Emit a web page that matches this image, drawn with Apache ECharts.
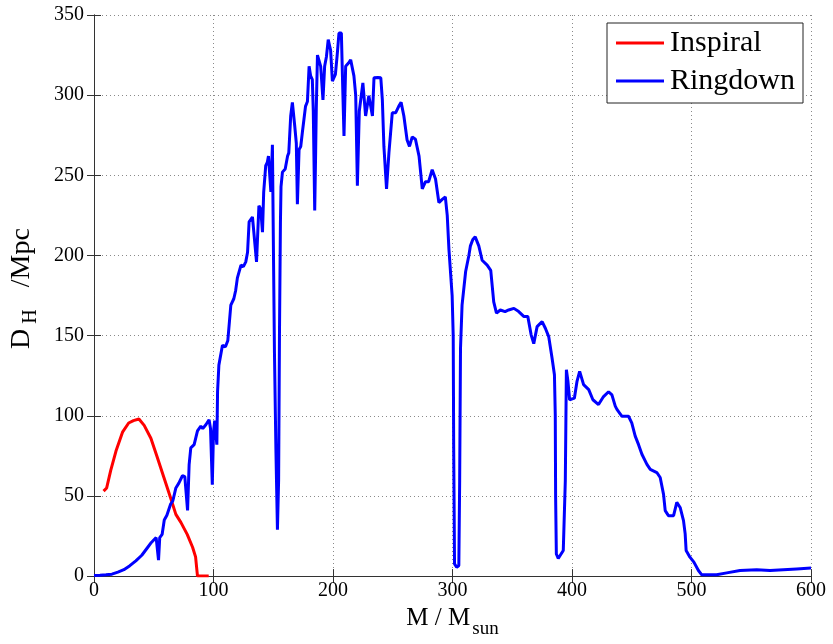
<!DOCTYPE html>
<html>
<head>
<meta charset="utf-8">
<script src="https://cdn.jsdelivr.net/npm/echarts@6/dist/echarts.min.js"></script>
<style>
html,body{margin:0;padding:0;background:#fff;}
#chart{width:833px;height:644px;}
</style>
</head>
<body>
<div id="chart"></div>
<script>
// ---- data ----
const seriesNames = ['Inspiral', 'Ringdown'];
const xTicks = [0, 100, 200, 300, 400, 500, 600];
const yTicks = [0, 50, 100, 150, 200, 250, 300, 350];

const inspiralMass = [8, 10.6, 14, 18.4, 24, 29, 33, 37.6, 42, 47.6, 53, 58.5, 64, 68.5, 72.7, 78, 82.5, 85, 86.6, 96];
const inspiralDist = [53, 55, 66, 78, 90, 95.5, 97, 98, 94, 86, 74, 61.5, 49, 38.5, 33.5, 26, 18, 12, 0, 0];

const ringdownMass = [0, 5, 10, 15, 20, 25, 30, 35, 40, 45, 48, 50, 52, 53, 54, 55, 57, 58.8, 61, 64, 66, 68.5, 71, 74, 76, 77, 78.3, 79.6, 81, 83.8, 86.6, 89.4, 91, 93.6, 96.3, 97.5, 99, 100, 101, 102.8, 103.4, 104.5, 106, 107.5, 110, 112, 114.5, 117, 118.5, 120, 123, 125, 127, 128.5, 129.8, 131, 132.6, 136, 138, 139.5, 141, 142, 143.7, 145, 146, 148, 149.3, 150.2, 151, 152.2, 153.5, 154.5, 155.2, 156, 156.5, 157.7, 160, 162, 163, 164.6, 166, 168, 169.3, 170.2, 171.6, 173, 174.4, 175.7, 177, 178.6, 180, 181.3, 182.7, 183.5, 184.7, 185.5, 186, 187, 189.7, 191.6, 193, 194.5, 196, 198, 199.5, 202, 203.5, 205, 207, 208.3, 209.2, 210.6, 213, 214.8, 217.5, 219, 220.4, 222, 225, 227.3, 230, 233, 234.3, 237.6, 240, 241.3, 242.6, 244.8, 246.8, 249.6, 252.4, 255, 257, 259.3, 262, 264, 266.3, 269, 272, 274.7, 277.4, 280, 283, 285.8, 288.6, 291.4, 294, 295.6, 297, 299.7, 300.6, 301, 301.7, 303.5, 305.3, 306, 306.7, 308, 311, 313.7, 315, 317, 319, 322, 324.8, 329, 332, 334.5, 336.8, 340, 344, 347, 351.4, 355.4, 359.6, 363, 365.8, 368, 370.8, 375, 377.7, 380.5, 383.3, 385.3, 386, 386.3, 386.9, 388.5, 390, 392.7, 394.4, 395.3, 396.6, 398, 402, 404.2, 406.4, 409.7, 414, 417.5, 422.2, 426.4, 430.6, 433.4, 436.2, 437.6, 441.8, 447.3, 450, 452.9, 455.7, 458.5, 462.7, 465.5, 471, 473.8, 476.6, 478, 480.7, 485, 487.7, 490.5, 493.3, 494.7, 495.5, 498.7, 502, 505.8, 508.6, 521, 529.5, 540.6, 554.6, 565.7, 576.8, 588, 600];
const ringdownDist = [0.3, 0.5, 0.8, 1.2, 2.5, 4, 6.5, 9.5, 13, 18, 21, 22.5, 24, 23, 10, 24, 26, 35, 38, 44.7, 47, 55, 58, 62.6, 62, 63, 41, 69.5, 80, 82, 90.6, 93.6, 92, 94.4, 97.5, 92, 57, 90, 97, 82, 115, 131.6, 132, 144, 143, 147, 169, 173, 178, 186, 194, 193, 196, 202, 221, 222, 224, 196, 231, 229, 214.5, 239.5, 256, 258, 262, 239.6, 269, 200, 140, 80, 29, 60, 150, 220, 243, 252, 254, 262, 264, 287, 295.5, 280.6, 270, 232, 266, 268, 277, 285, 293, 296, 318, 312, 309.7, 290, 228, 265, 291, 325, 318, 297, 318, 324, 334.6, 328, 308.7, 313, 325, 338.7, 338.7, 300, 274.6, 318, 320, 322, 312, 300, 243.5, 290, 307.6, 287, 299.6, 287, 310.8, 311, 310.8, 297, 268, 241.5, 264, 289, 289, 293, 295.5, 287, 272, 268, 274, 272.5, 262, 241.5, 246, 246, 253.5, 247.7, 233, 235, 236.5, 225, 204, 175, 150, 80, 7.6, 5.5, 6.6, 59.5, 142, 169, 190, 200, 206, 210, 211.6, 206, 197, 194, 190.7, 171, 164, 166, 165, 166, 167, 165, 162, 162, 150.5, 145, 155.6, 158.7, 154.6, 149.4, 136, 125.6, 100.7, 49, 13.8, 11, 10.7, 16, 59.4, 128.7, 121.5, 110, 111, 121.5, 127.7, 119.4, 116.3, 110, 107, 112, 115, 113, 106, 104, 99.7, 99.7, 95.6, 87.3, 82, 76, 69.7, 66.6, 64.6, 61.5, 51, 40.8, 37.7, 37.7, 46, 42.8, 34.6, 26.3, 16, 11.8, 8.7, 3.5, 0.8, 0.8, 2, 3.5, 4, 3.5, 4, 4.5, 5];

// ---- chart ----
const FONT = '"Liberation Serif", "Times New Roman", serif';
const zip = (xs, ys) => xs.map((x, i) => [x, ys[i]]);
const xMin = xTicks[0], xMax = xTicks[xTicks.length - 1], xStep = xTicks[1] - xTicks[0];
const yMin = yTicks[0], yMax = yTicks[yTicks.length - 1], yStep = yTicks[1] - yTicks[0];

const frameLine = { show: true, lineStyle: { color: '#333', width: 1 } };
const inTick = { show: true, inside: true, length: 7, lineStyle: { color: '#333', width: 1 } };
const gridLine = { show: true, lineStyle: { color: '#8a8a8a', width: 1, type: [1, 3] } };

const chart = echarts.init(document.getElementById('chart'), null, { renderer: 'canvas' });
chart.setOption({
  animation: false,
  backgroundColor: '#fff',
  grid: { left: 93, right: 22, top: 15, bottom: 65, containLabel: false },
  legend: {
    data: seriesNames,
    orient: 'vertical',
    left: 607, top: 23,
    padding: [5, 8, 7, 9],
    itemGap: 8,
    itemWidth: 48, itemHeight: 3,
    icon: 'rect',
    borderColor: '#222', borderWidth: 1,
    backgroundColor: '#fff',
    textStyle: { fontFamily: FONT, fontSize: 30, color: '#000', padding: [0, 0, 0, 1] }
  },
  xAxis: [{
    type: 'value', min: xMin, max: xMax, interval: xStep,
    position: 'bottom',
    axisLine: frameLine, axisTick: inTick, splitLine: gridLine,
    axisLabel: { fontFamily: FONT, fontSize: 20, color: '#000', margin: 5 },
    name: '{a|M / M}{b|sun}',
    nameLocation: 'middle', nameGap: 17,
    nameTextStyle: {
      rich: {
        a: { fontFamily: FONT, fontSize: 25, color: '#000', verticalAlign: 'top' },
        b: { fontFamily: FONT, fontSize: 19, color: '#000', verticalAlign: 'top', padding: [14, 0, 0, 2] }
      }
    }
  }, {
    type: 'value', min: xMin, max: xMax, interval: xStep,
    position: 'top',
    axisLine: frameLine, axisTick: inTick, splitLine: { show: false },
    axisLabel: { show: false }
  }],
  yAxis: [{
    type: 'value', min: yMin, max: yMax, interval: yStep,
    position: 'left',
    axisLine: frameLine, axisTick: inTick, splitLine: gridLine,
    axisLabel: { fontFamily: FONT, fontSize: 20, color: '#000', margin: 10 },
    name: '{d|D}{b|H}{a|  /Mpc}',
    nameLocation: 'middle', nameGap: 53, nameRotate: 90,
    nameTextStyle: {
      rich: {
        d: { fontFamily: FONT, fontSize: 28, color: '#000', verticalAlign: 'top', padding: [0, 0, 0, 14] },
        a: { fontFamily: FONT, fontSize: 28, color: '#000', verticalAlign: 'top' },
        b: { fontFamily: FONT, fontSize: 20, color: '#000', verticalAlign: 'top', padding: [13, 8, 0, 5] }
      }
    }
  }, {
    type: 'value', min: yMin, max: yMax, interval: yStep,
    position: 'right',
    axisLine: frameLine, axisTick: inTick, splitLine: { show: false },
    axisLabel: { show: false }
  }],
  series: [{
    name: seriesNames[0], type: 'line', xAxisIndex: 0, yAxisIndex: 0,
    data: zip(inspiralMass, inspiralDist),
    symbol: 'none', showSymbol: false,
    lineStyle: { color: '#ff0000', width: 3 },
    itemStyle: { color: '#ff0000' }
  }, {
    name: seriesNames[1], type: 'line', xAxisIndex: 0, yAxisIndex: 0,
    data: zip(ringdownMass, ringdownDist),
    symbol: 'none', showSymbol: false,
    lineStyle: { color: '#0000ff', width: 3 },
    itemStyle: { color: '#0000ff' }
  }]
});
</script>
</body>
</html>
